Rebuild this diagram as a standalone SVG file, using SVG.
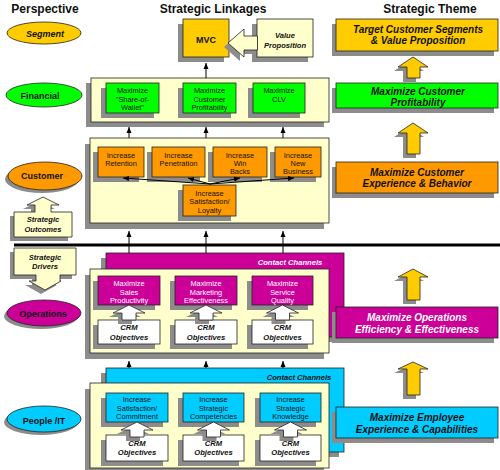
<svg xmlns="http://www.w3.org/2000/svg" width="500" height="470" viewBox="0 0 500 470">
<style>
text{font-family:"Liberation Sans",Arial,sans-serif;fill:#111;text-anchor:middle}
.hdr{font-size:12px;font-weight:bold}
.ell{font-size:9px;font-weight:bold}
.th{font-size:10px;font-weight:bold;font-style:italic}
.sm{font-size:7.4px}
.bi{font-size:7.6px;font-weight:bold;font-style:italic}
.w{fill:#fff}
.sh{fill:#8c8c8c;stroke:none}
.o{stroke:#222;stroke-width:0.8}
.pale{fill:#FFFFCC}
.gold{fill:#FFCC00}
.grn{fill:#00FF00}
.org{fill:#FF9900}
.mag{fill:#CC0099}
.cyn{fill:#00CCFF}
.wht{fill:#fff}
.con line{stroke:#000;stroke-width:1;marker-end:url(#ah)}
</style>
<defs>
<marker id="ah" markerWidth="6" markerHeight="6" refX="6" refY="3" orient="auto" markerUnits="userSpaceOnUse"><path d="M0,0.5 L6,3 L0,5.5 z" fill="#000"/></marker>
<path id="upw" d="M0,0 L16,8 H7 V15 H-7 V8 H-16 Z"/>
<path id="upg" d="M0,0 L15,10 H7 V21 H-6 V10 H-15 Z"/>
</defs>
<rect width="500" height="470" fill="#fff"/>

<!-- headers -->
<text class="hdr" x="45" y="13">Perspective</text>
<text class="hdr" x="213" y="13">Strategic Linkages</text>
<text class="hdr" x="430" y="13">Strategic Theme</text>

<!-- perspective ellipses -->
<g id="segment"><ellipse cx="44" cy="33" rx="37" ry="11" class="gold o"/><text class="ell" x="45" y="36.5" font-style="italic">Segment</text></g>
<g id="financial"><ellipse cx="44" cy="95" rx="38" ry="12" class="grn o"/><text class="ell" x="40" y="99">Financial</text></g>
<g id="customer"><ellipse cx="42" cy="179" rx="37" ry="14" class="sh"/><ellipse cx="45" cy="176" rx="37" ry="14" class="org o"/><text class="ell" x="42" y="179">Customer</text></g>
<g id="operations"><ellipse cx="41" cy="316" rx="37" ry="13" class="sh"/><ellipse cx="44" cy="313" rx="37" ry="13" class="mag o"/><text class="ell" x="43" y="317">Operations</text></g>
<g id="people"><ellipse cx="41" cy="422" rx="37" ry="13" class="sh"/><ellipse cx="44" cy="419" rx="37" ry="13" class="cyn o"/><text class="ell" x="44" y="424">People /IT</text></g>

<!-- strategic outcomes / drivers -->
<g id="outcomes">
<path class="sh" d="M10,216 H31 V209 H23 L39,201 L55,209 H47 V216 H68 V241 H10 Z"/>
<path class="pale o" d="M14,212 H35 V205 H27 L43,197 L59,205 H51 V212 H72 V237 H14 Z"/>
<text class="bi" x="43" y="222">Strategic</text><text class="bi" x="43" y="231.5">Outcomes</text>
</g>
<g id="drivers">
<path class="sh" d="M10,252 H72 V279 H56 V285 H57 L41,294 L25,285 H32 V279 H10 Z"/>
<path class="pale o" d="M14,248 H76 V275 H60 V281 H61 L45,290 L29,281 H36 V275 H14 Z"/>
<text class="bi" x="45" y="259.5">Strategic</text><text class="bi" x="45" y="268.5">Drivers</text>
</g>

<!-- divider -->
<line x1="14" y1="245" x2="500" y2="245" stroke="#000" stroke-width="3"/>

<!-- MVC and value proposition -->
<g id="mvc"><rect x="178" y="24" width="46" height="38" class="sh"/><rect x="183" y="19" width="46" height="38" class="gold o"/><text x="206" y="43" font-size="9" font-weight="bold">MVC</text></g>
<g id="valueprop">
<rect x="252" y="24" width="56" height="38" class="sh"/>
<path class="sh" d="M224,47 L240,33 V40 H253 V54 H240 V61 Z"/>
<rect x="257" y="19" width="56" height="38" class="pale o"/>
<path class="pale o" d="M228,43 L244,29 V36 H257.5 V50 H244 V57 Z"/>
<text class="bi" x="285" y="38">Value</text><text class="bi" x="285" y="48">Proposition</text>
</g>

<!-- financial container -->
<g id="financial-linkages">
<rect x="86" y="83" width="238" height="44" class="sh"/><rect x="91" y="78" width="238" height="44" class="pale o"/>
<rect x="101" y="88" width="53" height="30" class="sh"/><rect x="106" y="83" width="53" height="30" class="grn o"/>
<text class="sm" x="132.5" y="93">Maximize</text><text class="sm" x="132.5" y="101.5">"Share-of-</text><text class="sm" x="132.5" y="110">Wallet"</text>
<rect x="178" y="88" width="53" height="30" class="sh"/><rect x="183" y="83" width="53" height="30" class="grn o"/>
<text class="sm" x="209.5" y="93">Maximize</text><text class="sm" x="209.5" y="101.5">Customer</text><text class="sm" x="209.5" y="110">Profitability</text>
<rect x="248" y="88" width="52" height="30" class="sh"/><rect x="253" y="83" width="52" height="30" class="grn o"/>
<text class="sm" x="279" y="93">Maximize</text><text class="sm" x="279" y="101.5">CLV</text>
</g>

<!-- customer container -->
<g id="customer-linkages">
<rect x="85" y="144" width="239" height="85" class="sh"/><rect x="90" y="138" width="239" height="85" class="pale o"/>
<rect x="93" y="152" width="46" height="30" class="sh"/><rect x="98" y="147" width="46" height="30" class="org o"/>
<text class="sm" x="121" y="157.5">Increase</text><text class="sm" x="121" y="166">Retention</text>
<rect x="147" y="152" width="53" height="30" class="sh"/><rect x="152" y="147" width="53" height="30" class="org o"/>
<text class="sm" x="178.5" y="157.5">Increase</text><text class="sm" x="178.5" y="166">Penetration</text>
<rect x="208" y="152" width="54" height="30" class="sh"/><rect x="213" y="147" width="54" height="30" class="org o"/>
<text class="sm" x="240" y="157.5">Increase</text><text class="sm" x="240" y="166">Win</text><text class="sm" x="240" y="174">Backs</text>
<rect x="270" y="152" width="46" height="30" class="sh"/><rect x="275" y="147" width="46" height="30" class="org o"/>
<text class="sm" x="298" y="157.5">Increase</text><text class="sm" x="298" y="166">New</text><text class="sm" x="298" y="174">Business</text>
<rect x="178" y="190" width="53" height="31" class="sh"/><rect x="183" y="185" width="53" height="31" class="org o"/>
<text class="sm" x="209.5" y="196">Increase</text><text class="sm" x="209.5" y="204">Satisfaction/</text><text class="sm" x="209.5" y="212.5">Loyalty</text>
</g>

<!-- operations -->
<g id="operations-linkages">
<rect x="101" y="258" width="238" height="84" class="sh"/><rect x="106" y="253" width="238" height="84" class="mag o"/>
<text class="bi w" x="290" y="265">Contact Channels</text>
<rect x="85" y="275" width="239" height="84" class="sh"/><rect x="90" y="269" width="239" height="84" class="pale o"/>
<rect x="93" y="281" width="62" height="29" class="sh"/><rect x="98" y="276" width="62" height="29" class="mag o"/>
<text class="sm w" x="129" y="286">Maximize</text><text class="sm w" x="129" y="294.5">Sales</text><text class="sm w" x="129" y="303">Productivity</text>
<rect x="170" y="281" width="62" height="29" class="sh"/><rect x="175" y="276" width="62" height="29" class="mag o"/>
<text class="sm w" x="206" y="286">Maximize</text><text class="sm w" x="206" y="294.5">Marketing</text><text class="sm w" x="206" y="303">Effectiveness</text>
<rect x="247" y="281" width="61" height="29" class="sh"/><rect x="252" y="276" width="61" height="29" class="mag o"/>
<text class="sm w" x="282.5" y="286">Maximize</text><text class="sm w" x="282.5" y="294.5">Service</text><text class="sm w" x="282.5" y="303">Quality</text>
<rect x="93" y="325" width="62" height="24" class="sh"/><rect x="98" y="320" width="62" height="24" class="wht o"/>
<use href="#upw" x="125" y="309" class="sh"/><use href="#upw" x="129" y="305" class="wht o"/>
<text class="bi" x="129" y="330">CRM</text><text class="bi" x="129" y="339.5">Objectives</text>
<rect x="170" y="325" width="62" height="24" class="sh"/><rect x="175" y="320" width="62" height="24" class="wht o"/>
<use href="#upw" x="202" y="309" class="sh"/><use href="#upw" x="206" y="305" class="wht o"/>
<text class="bi" x="206" y="330">CRM</text><text class="bi" x="206" y="339.5">Objectives</text>
<rect x="247" y="325" width="61" height="24" class="sh"/><rect x="252" y="320" width="61" height="24" class="wht o"/>
<use href="#upw" x="278.5" y="309" class="sh"/><use href="#upw" x="282.5" y="305" class="wht o"/>
<text class="bi" x="282.5" y="330">CRM</text><text class="bi" x="282.5" y="339.5">Objectives</text>
</g>

<!-- people / IT -->
<g id="people-linkages">
<rect x="101" y="373" width="238" height="84" class="sh"/><rect x="106" y="368" width="238" height="84" class="cyn o"/>
<text class="bi" x="299" y="380">Contact Channels</text>
<rect x="85" y="389" width="239" height="85" class="sh"/><rect x="90" y="383" width="239" height="85" class="pale o"/>
<rect x="101" y="398" width="62" height="29" class="sh"/><rect x="106" y="393" width="62" height="29" class="cyn o"/>
<text class="sm" x="137" y="402">Increase</text><text class="sm" x="137" y="410.5">Satisfaction/</text><text class="sm" x="137" y="419">Commitment</text>
<rect x="178" y="398" width="61" height="29" class="sh"/><rect x="183" y="393" width="61" height="29" class="cyn o"/>
<text class="sm" x="213.5" y="402">Increase</text><text class="sm" x="213.5" y="410.5">Strategic</text><text class="sm" x="213.5" y="419">Competencies</text>
<rect x="255" y="398" width="61" height="29" class="sh"/><rect x="260" y="393" width="61" height="29" class="cyn o"/>
<text class="sm" x="290.5" y="402">Increase</text><text class="sm" x="290.5" y="410.5">Strategic</text><text class="sm" x="290.5" y="419">Knowledge</text>
<rect x="101" y="440" width="62" height="26" class="sh"/><rect x="106" y="435" width="62" height="26" class="wht o"/>
<use href="#upw" x="133" y="426" class="sh"/><use href="#upw" x="137" y="422" class="wht o"/>
<text class="bi" x="137" y="446">CRM</text><text class="bi" x="137" y="455">Objectives</text>
<rect x="178" y="440" width="61" height="26" class="sh"/><rect x="183" y="435" width="61" height="26" class="wht o"/>
<use href="#upw" x="209.5" y="426" class="sh"/><use href="#upw" x="213.5" y="422" class="wht o"/>
<text class="bi" x="213.5" y="446">CRM</text><text class="bi" x="213.5" y="455">Objectives</text>
<rect x="255" y="440" width="61" height="26" class="sh"/><rect x="260" y="435" width="61" height="26" class="wht o"/>
<use href="#upw" x="286.5" y="426" class="sh"/><use href="#upw" x="290.5" y="422" class="wht o"/>
<text class="bi" x="290.5" y="446">CRM</text><text class="bi" x="290.5" y="455">Objectives</text>
</g>

<!-- connectors -->
<g id="connectors" class="con">
<line x1="206" y1="78" x2="206" y2="63"/>
<line x1="129" y1="138" x2="129" y2="127"/>
<line x1="206" y1="138" x2="206" y2="127"/>
<line x1="283" y1="138" x2="283" y2="127"/>
<line x1="129" y1="253" x2="129" y2="231"/>
<line x1="206" y1="253" x2="206" y2="231"/>
<line x1="283" y1="253" x2="283" y2="231"/>
<line x1="129" y1="368" x2="129" y2="361"/>
<line x1="206" y1="368" x2="206" y2="361"/>
<line x1="283" y1="368" x2="283" y2="361"/>
<line x1="210" y1="184" x2="123" y2="178"/>
<line x1="210" y1="184" x2="188" y2="178"/>
<line x1="210" y1="184" x2="240" y2="178"/>
<line x1="210" y1="184" x2="294" y2="178"/>
</g>

<!-- strategic theme -->
<g id="theme-target"><rect x="332" y="24" width="162" height="32" class="sh"/><rect x="336" y="19" width="162" height="32" class="gold o"/>
<text class="th" x="418" y="32.5">Target Customer Segments</text><text class="th" x="418" y="44">&amp; Value Proposition</text></g>
<g id="theme-financial"><rect x="332" y="88" width="162" height="25" class="sh"/><rect x="336" y="83" width="162" height="25" class="grn o"/>
<text class="th" x="418" y="95">Maximize Customer</text><text class="th" x="418" y="106">Profitability</text></g>
<g id="theme-customer"><rect x="332" y="167" width="162" height="31" class="sh"/><rect x="336" y="162" width="162" height="31" class="org o"/>
<text class="th" x="417" y="175.5">Maximize Customer</text><text class="th" x="417" y="186.5">Experience &amp; Behavior</text></g>
<g id="theme-operations"><rect x="332" y="312" width="162" height="31" class="sh"/><rect x="336" y="307" width="162" height="31" class="mag o"/>
<text class="th w" x="417" y="321">Maximize Operations</text><text class="th w" x="417" y="332.5">Efficiency &amp; Effectiveness</text></g>
<g id="theme-people"><rect x="332" y="412" width="162" height="31" class="sh"/><rect x="336" y="407" width="162" height="31" class="cyn o"/>
<text class="th" x="417" y="421">Maximize Employee</text><text class="th" x="417" y="432.5">Experience &amp; Capabilities</text></g>

<!-- theme arrows -->
<g id="theme-arrows">
<use href="#upg" x="409" y="61" class="sh"/><use href="#upg" x="413" y="57" class="gold o"/>
<path class="sh" d="M409,127 L424,137 H416 V158 H403 V137 H394 Z"/><path class="gold o" d="M413,123 L428,133 H420 V154 H407 V133 H398 Z"/>
<path class="sh" d="M409,273 L424,281 H416 V304 H403 V281 H394 Z"/><path class="gold o" d="M413,269 L428,277 H420 V300 H407 V277 H398 Z"/>
<path class="sh" d="M409,366 L424,373 H416 V399 H403 V373 H394 Z"/><path class="gold o" d="M413,362 L428,369 H420 V395 H407 V369 H398 Z"/>
</g>
</svg>
